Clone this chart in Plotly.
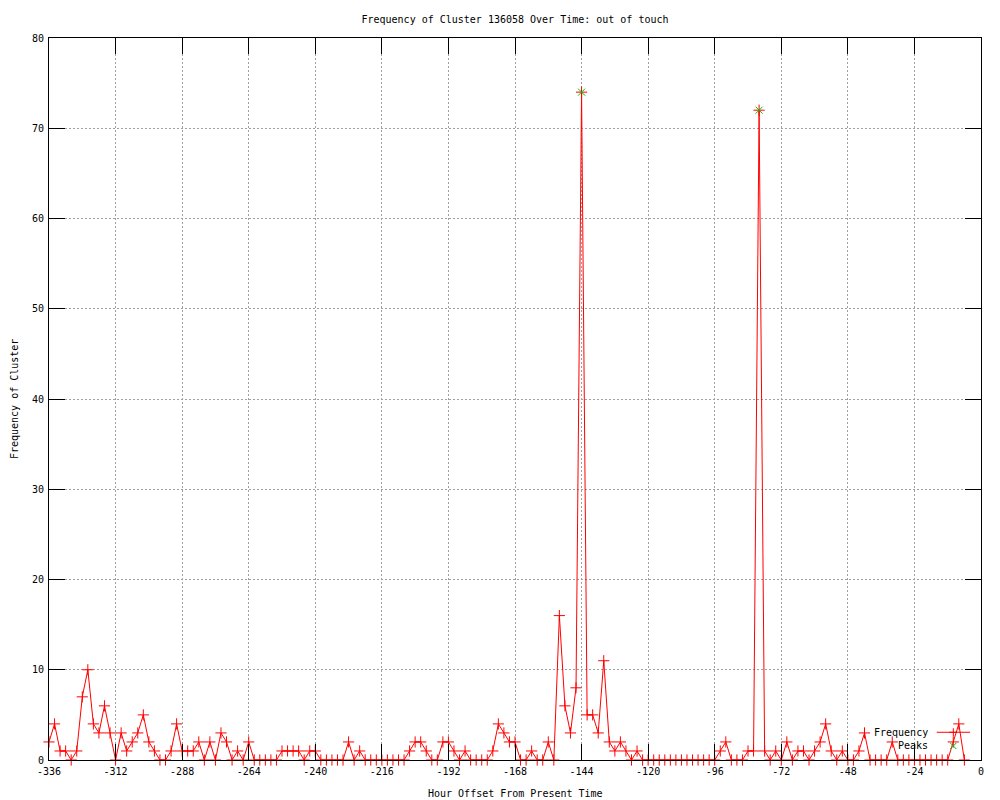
import plotly.graph_objects as go

title_text = "Frequency of Cluster 136058 Over Time: out of touch"
x_title = "Hour Offset From Present Time"
y_title = "Frequency of Cluster"

hours = list(range(-336, -5, 2))
frequency = [
    2, 4, 1, 1, 0, 1, 7, 10, 4, 3, 6, 3,
    0, 3, 1, 2, 3, 5, 2, 1, 0, 0, 1, 4,
    1, 1, 1, 2, 0, 2, 0, 3, 2, 0, 1, 0,
    2, 0, 0, 0, 0, 0, 1, 1, 1, 1, 0, 1,
    1, 0, 0, 0, 0, 0, 2, 0, 1, 0, 0, 0,
    0, 0, 0, 0, 0, 1, 2, 2, 1, 0, 0, 2,
    2, 1, 0, 1, 0, 0, 0, 0, 1, 4, 3, 2,
    2, 0, 0, 1, 0, 0, 2, 0, 16, 6, 3, 8,
    74, 5, 5, 3, 11, 2, 1, 2, 1, 0, 1, 0,
    0, 0, 0, 0, 0, 0, 0, 0, 0, 0, 0, 0,
    0, 1, 2, 0, 0, 0, 1, 1, 72, 1, 0, 1,
    0, 2, 0, 1, 1, 0, 1, 2, 4, 1, 0, 1,
    0, 0, 1, 3, 0, 0, 0, 0, 2, 0, 0, 0,
    0, 0, 0, 0, 0, 0, 0, 2, 4, 0,
]
peak_hours = [-144, -80]
peak_values = [74, 72]

x_ticks = list(range(-336, 1, 24))
y_ticks = list(range(0, 81, 10))

RED = "#ff0000"
GREEN = "#00c000"
FONT = "DejaVu Sans Mono"

fig = go.Figure()
fig.add_trace(go.Scatter(
    x=hours, y=frequency, mode="lines+markers", name="Frequency",
    line=dict(color=RED, width=1),
    marker=dict(symbol="cross-thin", size=8, line=dict(color=RED, width=1), color=RED),
    cliponaxis=False, showlegend=False,
))
fig.add_trace(go.Scatter(
    x=peak_hours, y=peak_values, mode="markers", name="Peaks",
    marker=dict(symbol="x-thin", size=7, line=dict(color=GREEN, width=1), color=GREEN),
    cliponaxis=False, showlegend=False,
))

axis_common = dict(
    showline=True, linecolor="black", linewidth=1, mirror="ticks",
    ticks="inside", ticklen=16, tickcolor="black", tickwidth=1,
    showgrid=True, gridcolor="#a0a0a0", gridwidth=1, griddash="2px,2px",
    zeroline=False, tickfont=dict(family=FONT, size=10, color="black"),
    automargin=False, title=None, ticklabelstandoff=2,
)

fig.update_xaxes(range=[-336, 0], tickvals=x_ticks, ticktext=[str(v) for v in x_ticks],
                 **axis_common)
fig.update_yaxes(range=[0, 80], tickvals=y_ticks, **axis_common)

# legend drawn gnuplot-style (text left of sample)
lx_text = 0.9453
lx_mark = 0.9703
ly_freq = 0.0384
ly_peak = 0.0194
annotations = [
    dict(x=lx_text, y=ly_freq, xref="paper", yref="paper", text="Frequency", showarrow=False,
         xanchor="right", yanchor="middle", font=dict(family=FONT, size=10, color="black")),
    dict(x=lx_text, y=ly_peak, xref="paper", yref="paper", text="Peaks", showarrow=False,
         xanchor="right", yanchor="middle", font=dict(family=FONT, size=10, color="black")),
    dict(x=-0.0375, y=0.5, xref="paper", yref="paper", text=y_title, showarrow=False,
         textangle=-90, xanchor="center", yanchor="middle",
         font=dict(family=FONT, size=10, color="black")),
    dict(x=0.5, y=-0.046, xref="paper", yref="paper", text=x_title, showarrow=False,
         xanchor="center", yanchor="middle",
         font=dict(family=FONT, size=10, color="black")),
]

shapes = [
    dict(type="line", xref="paper", yref="paper", x0=0.9525, x1=0.9882, y0=ly_freq, y1=ly_freq,
         line=dict(color=RED, width=1)),
    dict(type="line", xref="paper", yref="paper", xsizemode="pixel", ysizemode="pixel",
         xanchor=lx_mark, yanchor=ly_freq, x0=-4, x1=4, y0=0, y1=0, line=dict(color=RED, width=1)),
    dict(type="line", xref="paper", yref="paper", xsizemode="pixel", ysizemode="pixel",
         xanchor=lx_mark, yanchor=ly_freq, x0=0, x1=0, y0=-4, y1=4, line=dict(color=RED, width=1)),
    dict(type="line", xref="paper", yref="paper", xsizemode="pixel", ysizemode="pixel",
         xanchor=lx_mark, yanchor=ly_peak, x0=-3, x1=3, y0=-3, y1=3, line=dict(color=GREEN, width=1)),
    dict(type="line", xref="paper", yref="paper", xsizemode="pixel", ysizemode="pixel",
         xanchor=lx_mark, yanchor=ly_peak, x0=-3, x1=3, y0=3, y1=-3, line=dict(color=GREEN, width=1)),
]

# page body has an 8px margin, so the figure is 992x792 placed at (8, 8)
fig.update_layout(
    width=992, height=792,
    margin=dict(l=41, r=19, t=30, b=40, autoexpand=False),
    paper_bgcolor="white", plot_bgcolor="white",
    title=dict(text=title_text, x=0.5, xref="paper", xanchor="center",
               y=1 - 11 / 792, yanchor="middle",
               font=dict(family=FONT, size=10, color="black")),
    annotations=annotations, shapes=shapes,
    showlegend=False,
)

fig.write_html("out.html")
